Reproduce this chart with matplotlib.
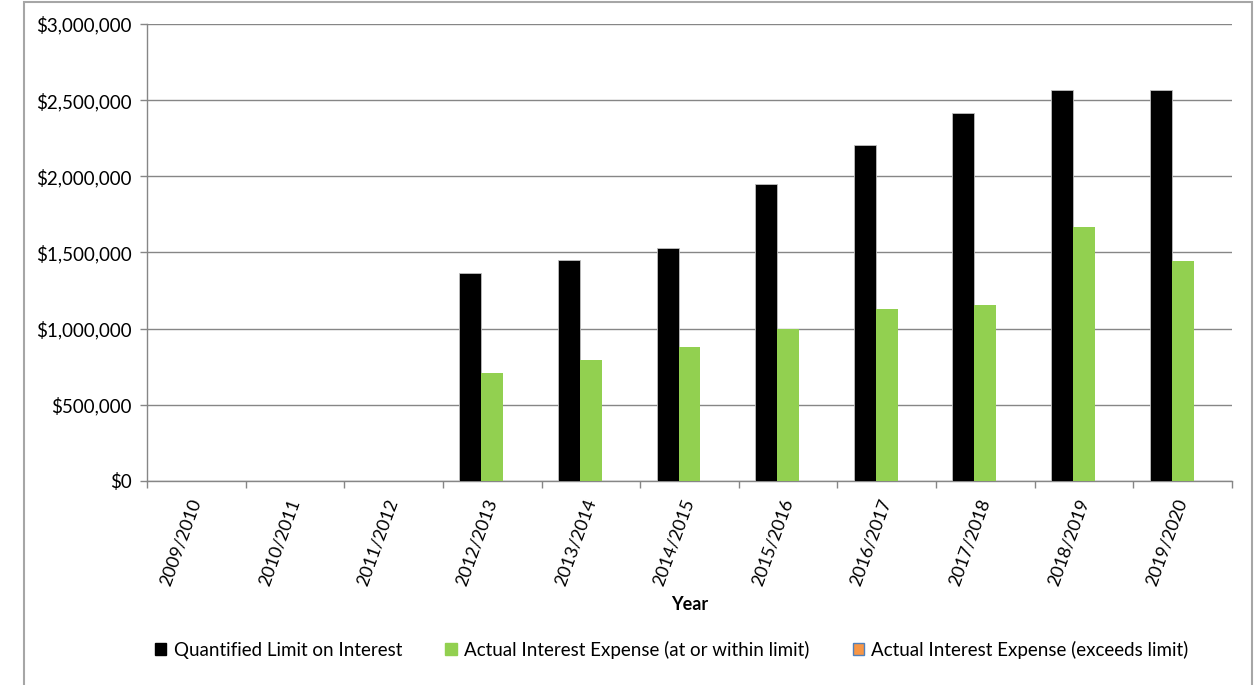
import matplotlib.pyplot as plt
import matplotlib.patches as mpatches
from matplotlib.ticker import FuncFormatter, FixedLocator
import numpy as np

plt.rcParams['font.family'] = ['Lato', 'DejaVu Sans']

years = ['2009/2010', '2010/2011', '2011/2012', '2012/2013', '2013/2014',
         '2014/2015', '2015/2016', '2016/2017', '2017/2018', '2018/2019',
         '2019/2020']
limit = [0, 0, 0, 1365000, 1451000, 1532000, 1950000, 2204000, 2418000,
         2567000, 2567000]
within = [0, 0, 0, 709000, 794000, 878000, 996000, 1127000, 1155000,
          1669000, 1444000]
exceeds = [0] * 11

grey = '#868686'
green = '#92D050'
orange = '#F79646'

fig = plt.figure(figsize=(12.59, 6.85), dpi=100)
ax = fig.add_axes([147 / 1259, 1 - 481 / 685, (1232 - 147) / 1259, (481 - 24) / 685])

x = np.arange(len(years))
w = 0.223
ax.bar(x - w, limit, w, color='black', edgecolor='#bfbfbf', linewidth=0.6, zorder=3)
ax.bar(x, within, w, color=green, zorder=3)
ax.bar(x + w, exceeds, w, color=orange, zorder=3)

ax.set_xlim(-0.5, len(years) - 0.5)
ax.set_ylim(0, 3000000)
ax.set_yticks(np.arange(0, 3000001, 500000))
ax.yaxis.set_major_formatter(FuncFormatter(lambda v, p: '${:,.0f}'.format(v)))
ax.grid(axis='y', color=grey, linewidth=1, zorder=0)

ax.set_xticks(x)
ax.set_xticklabels(years, rotation=70, ha='right', va='center', rotation_mode='anchor')
ax.xaxis.set_minor_locator(FixedLocator(np.arange(-0.5, len(years), 1)))
ax.tick_params(axis='x', which='major', length=0, pad=13, labelsize=13)
ax.tick_params(axis='x', which='minor', length=5, color=grey, width=1)
ax.tick_params(axis='y', length=5, color=grey, width=1, labelsize=13.5, pad=6)

for side in ['top', 'right']:
    ax.spines[side].set_visible(False)
for side in ['left', 'bottom']:
    ax.spines[side].set_color(grey)
    ax.spines[side].set_linewidth(1)

ax.set_xlabel('Year', fontsize=13, fontweight='bold', labelpad=6)

handles = [
    mpatches.Patch(facecolor='black', edgecolor='black', label='Quantified Limit on Interest'),
    mpatches.Patch(facecolor=green, edgecolor=green, label='Actual Interest Expense (at or within limit)'),
    mpatches.Patch(facecolor=orange, edgecolor='#4F81BD', label='Actual Interest Expense (exceeds limit)'),
]
fig.legend(handles=handles, loc='center', bbox_to_anchor=(672 / 1259, 1 - 650 / 685),
           ncol=3, frameon=False, fontsize=13.5, handlelength=0.6, handleheight=0.6,
           handletextpad=0.4, columnspacing=2.3)

# chart frame
frame = mpatches.Rectangle((24 / 1259, -0.1), (1252 - 24) / 1259, 1.1 - 2 / 685,
                           transform=fig.transFigure, fill=False,
                           edgecolor='#a6a6a6', linewidth=1.5)
fig.patches.append(frame)

fig.savefig('out.png', dpi=100)
